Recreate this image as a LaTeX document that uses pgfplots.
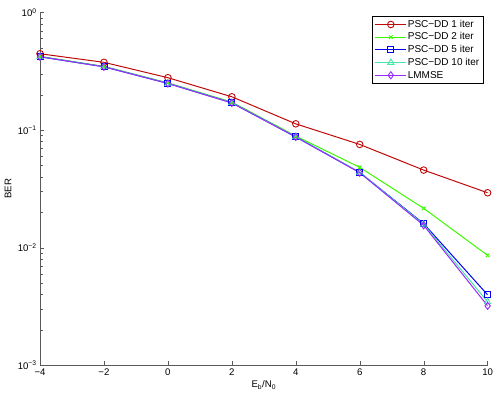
\documentclass[border=0pt]{standalone}
\usepackage{fontspec}
\setmainfont{Liberation Sans}
\usepackage{pgfplots}
\pgfplotsset{compat=1.18}

\definecolor{c1}{RGB}{190,10,10}
\definecolor{c2}{RGB}{60,250,0}
\definecolor{c3}{RGB}{0,0,245}
\definecolor{c4}{RGB}{70,232,165}
\definecolor{c5}{RGB}{153,40,255}

\begin{document}
\fontsize{9.6bp}{11bp}\selectfont
\begin{tikzpicture}
\path[use as bounding box] (-40bp,-34bp) rectangle (457.7bp,365bp);
\begin{axis}[
  at={(0,0)}, anchor=south west,
  scale only axis, width=447.3bp, height=352.5bp,
  ymode=log, log basis y=10,
  xmin=-4, xmax=10, ymin=1e-3, ymax=1,
  axis lines=left, axis line style={-, black!65},
  xtick={-4,-2,...,10}, xticklabels={−4,−2,0,2,4,6,8,10},
  ytick={1e-3,1e-2,1e-1,1},
  yticklabels={10\textsuperscript{−3},10\textsuperscript{−2},10\textsuperscript{−1},10\textsuperscript{0}},
  minor ytick={2e-3,3e-3,4e-3,5e-3,6e-3,7e-3,8e-3,9e-3,
               2e-2,3e-2,4e-2,5e-2,6e-2,7e-2,8e-2,9e-2,
               2e-1,3e-1,4e-1,5e-1,6e-1,7e-1,8e-1,9e-1},
  tick align=inside, major tick length=4bp, minor tick length=2.5bp,
  tick style={black!65},
  xlabel={E\textsubscript{b}/N\textsubscript{0}}, ylabel={BER},
  every axis x label/.style={at={(axis description cs:0.5,0)}, yshift=-20bp, anchor=center},
  every axis y label/.style={at={(axis description cs:0,0.5)}, xshift=-32bp, rotate=90, anchor=center},
  legend cell align=left,
  legend style={at={(axis description cs:1,1)}, anchor=north east,
    xshift=-4.6bp, yshift=-3.5bp, draw=black, fill=white, inner sep=2.5bp,
    font=\fontsize{10bp}{12bp}\selectfont, row sep=1.2bp,
    nodes={inner sep=1bp, text height=7.5bp, text depth=2bp}},
  legend image code/.code={\draw[mark repeat=2,mark phase=2,#1]
    plot coordinates {(0bp,0bp)(15.5bp,0bp)(31bp,0bp)};},
  every axis plot/.append style={line width=1bp, mark options={solid, line width=0.9bp, fill=none}},
]
\addplot[c1, mark=o, mark size=3.3bp] coordinates {
  (-4,0.446) (-2,0.377) (0,0.279) (2,0.192) (4,0.113) (6,0.0755) (8,0.0457) (10,0.0293)
};
\addplot[c2, mark=x, mark size=2.6bp] coordinates {
  (-4,0.423) (-2,0.348) (0,0.252) (2,0.173) (4,0.089) (6,0.0482) (8,0.0216) (10,0.0086)
};
\addplot[c3, mark=square, mark size=3bp] coordinates {
  (-4,0.421) (-2,0.346) (0,0.250) (2,0.171) (4,0.0877) (6,0.0437) (8,0.0160) (10,0.00397)
};
\addplot[c4, mark=triangle, mark size=3.6bp] coordinates {
  (-4,0.421) (-2,0.346) (0,0.250) (2,0.171) (4,0.0877) (6,0.0437) (8,0.0158) (10,0.00346)
};
\addplot[c5, mark=diamond, mark size=3.6bp] coordinates {
  (-4,0.420) (-2,0.345) (0,0.249) (2,0.170) (4,0.0873) (6,0.0434) (8,0.0155) (10,0.0032)
};
\legend{PSC−DD 1 iter, PSC−DD 2 iter, PSC−DD 5 iter, PSC−DD 10 iter, LMMSE}
\end{axis}
\end{tikzpicture}
\end{document}
